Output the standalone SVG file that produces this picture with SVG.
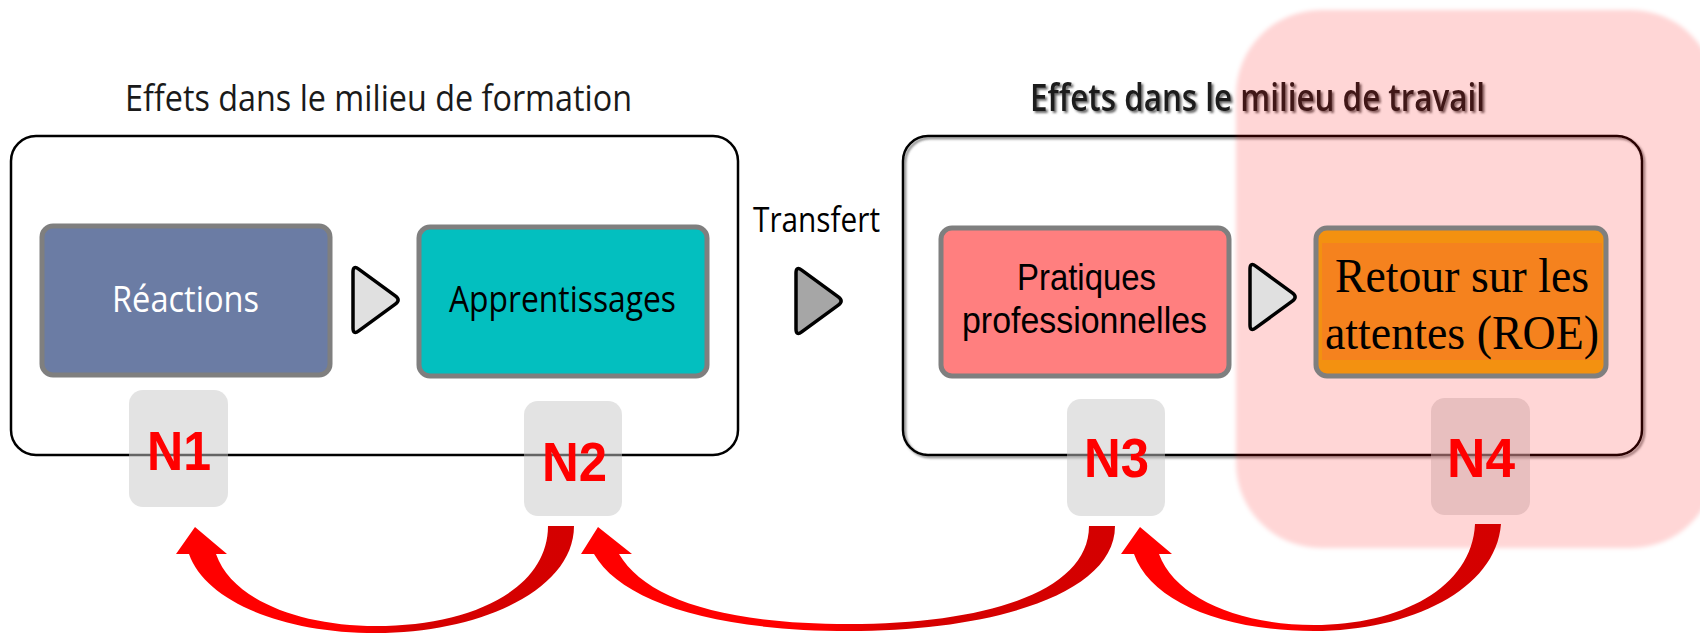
<svg xmlns="http://www.w3.org/2000/svg" width="1700" height="634" viewBox="0 0 1700 634">
<defs>
<style>
.sans{font-family:"Open Sans","Liberation Sans",sans-serif;}
.lsans{font-family:"Liberation Sans",Arial,sans-serif;}
.serif{font-family:"Liberation Serif","Times New Roman",serif;}
.frame{fill:none;stroke:#000;stroke-width:2.5;}
.node{stroke:#7f7f7f;stroke-width:5;}
.badge{fill:#c8c8c8;fill-opacity:0.5;}
.nlab{font-family:"Liberation Sans",Arial,sans-serif;font-weight:bold;font-size:55px;fill:#ff0000;}
.chev{stroke:#000;stroke-width:3.5;stroke-linejoin:round;}
.arrow{fill:url(#arrowGrad);}
</style>
<linearGradient id="arrowGrad" x1="0" y1="0" x2="1" y2="0">
<stop offset="0" stop-color="#ff0000"/>
<stop offset="0.45" stop-color="#ff0000"/>
<stop offset="0.6" stop-color="#d60000"/>
<stop offset="1" stop-color="#d40000"/>
</linearGradient>
<filter id="soft" x="-5%" y="-5%" width="110%" height="110%"><feGaussianBlur stdDeviation="2"/></filter>
<filter id="tshadow" x="-5%" y="-30%" width="110%" height="160%"><feDropShadow dx="2" dy="2" stdDeviation="1" flood-color="#444" flood-opacity="0.8"/></filter>
<filter id="boxshadow" x="-2%" y="-2%" width="104%" height="104%"><feDropShadow dx="2" dy="2" stdDeviation="1" flood-color="#555" flood-opacity="0.7"/></filter>
<path id="chevron" d="M0,7 Q0,0 5.7,4.1 L42.3,30.9 Q48,35 42.3,39.1 L5.7,65.9 Q0,70 0,63 Z"/>
</defs>

<rect width="1700" height="634" fill="#fff"/>

<g id="zone-formation">
<rect class="frame" x="11" y="136" width="727" height="319" rx="25"/>
<text class="sans" x="125" y="111" font-size="37" fill="#1a1a1a" textLength="507" lengthAdjust="spacingAndGlyphs">Effets dans le milieu de formation</text>
</g>

<g id="zone-travail">
<rect class="frame" x="903" y="136" width="739" height="319" rx="25" filter="url(#boxshadow)"/>
<text class="sans" x="1030" y="111" font-size="37" font-weight="600" fill="#1a1a1a" filter="url(#tshadow)" textLength="455" lengthAdjust="spacingAndGlyphs">Effets dans le milieu de travail</text>
</g>

<g id="n1">
<rect class="badge" x="129" y="390" width="99" height="117" rx="14"/>
<text class="nlab" x="147" y="470" textLength="64" lengthAdjust="spacingAndGlyphs">N1</text>
</g>
<g id="n2">
<rect class="badge" x="524" y="401" width="98" height="115" rx="14"/>
<text class="nlab" x="542" y="481" textLength="65" lengthAdjust="spacingAndGlyphs">N2</text>
</g>
<g id="n3">
<rect class="badge" x="1067" y="399" width="98" height="117" rx="14"/>
<text class="nlab" x="1084" y="477" textLength="65" lengthAdjust="spacingAndGlyphs">N3</text>
</g>
<g id="n4">
<rect class="badge" x="1431" y="398" width="99" height="117" rx="14"/>
<text class="nlab" x="1447" y="477" textLength="68" lengthAdjust="spacingAndGlyphs">N4</text>
</g>

<g id="highlight-roe">
<rect x="1236" y="10" width="480" height="538" rx="85" fill="#ff0000" fill-opacity="0.16" filter="url(#soft)"/>
</g>

<g id="reactions">
<rect class="node" x="42" y="226" width="288" height="149" rx="11" fill="#6b7ca4"/>
<text class="sans" x="112" y="312" font-size="37" fill="#fff" textLength="147" lengthAdjust="spacingAndGlyphs">Réactions</text>
</g>

<g id="apprentissages">
<rect class="node" x="419" y="227" width="288" height="149" rx="11" fill="#03bfbf"/>
<text class="sans" x="449" y="312" font-size="37" fill="#000" textLength="227" lengthAdjust="spacingAndGlyphs">Apprentissages</text>
</g>

<g id="transfert">
<text class="sans" x="753" y="232" font-size="35" fill="#000" textLength="127" lengthAdjust="spacingAndGlyphs">Transfert</text>
</g>

<g id="pratiques">
<rect class="node" x="941" y="228" width="288" height="148" rx="11" fill="#ff7f7f"/>
<text class="lsans" font-size="37" fill="#000"><tspan x="1017" y="290" textLength="139" lengthAdjust="spacingAndGlyphs">Pratiques</tspan><tspan x="962" y="333" textLength="245" lengthAdjust="spacingAndGlyphs">professionnelles</tspan></text>
</g>

<g id="roe">
<rect class="node" x="1316" y="228" width="290" height="148" rx="11" fill="#f39110"/>
<rect x="1322" y="243" width="280" height="117" fill="#f5821e"/>
<text class="serif" font-size="48" fill="#000"><tspan x="1335" y="292" textLength="254" lengthAdjust="spacingAndGlyphs">Retour sur les</tspan><tspan x="1325" y="349" textLength="274" lengthAdjust="spacingAndGlyphs">attentes (ROE)</tspan></text>
</g>

<g id="chevrons">
<use href="#chevron" class="chev" fill="#e0e0e0" transform="translate(353,265)"/>
<use href="#chevron" class="chev" fill="#a6a6a6" transform="translate(796,266)"/>
<use href="#chevron" class="chev" fill="#e0e0e0" transform="translate(1250,262)"/>
</g>

<g id="connectors">
<path class="arrow" d="M548,526 L574,526 C574,590 480,633 376,633 C280,633 205,600 189,554 L176,554 L195,527 L227,554 L216,554 C232,600 300,626 376,626 C470,626 548,590 548,526 Z"/>
<path class="arrow" d="M1089,526 L1115,526 C1115,595 990,631 849,631 C710,631 620,600 594,554 L581,554 L598,527 L632,554 L619,554 C645,598 720,624 849,624 C985,624 1089,592 1089,526 Z"/>
<path class="arrow" d="M1475,524 L1501,524 C1496,590 1410,631 1314,631 C1220,631 1150,600 1134,554 L1121,554 L1140,527 L1172,554 L1159,554 C1175,598 1240,625 1314,625 C1400,625 1472,588 1475,524 Z"/>
</g>
</svg>
